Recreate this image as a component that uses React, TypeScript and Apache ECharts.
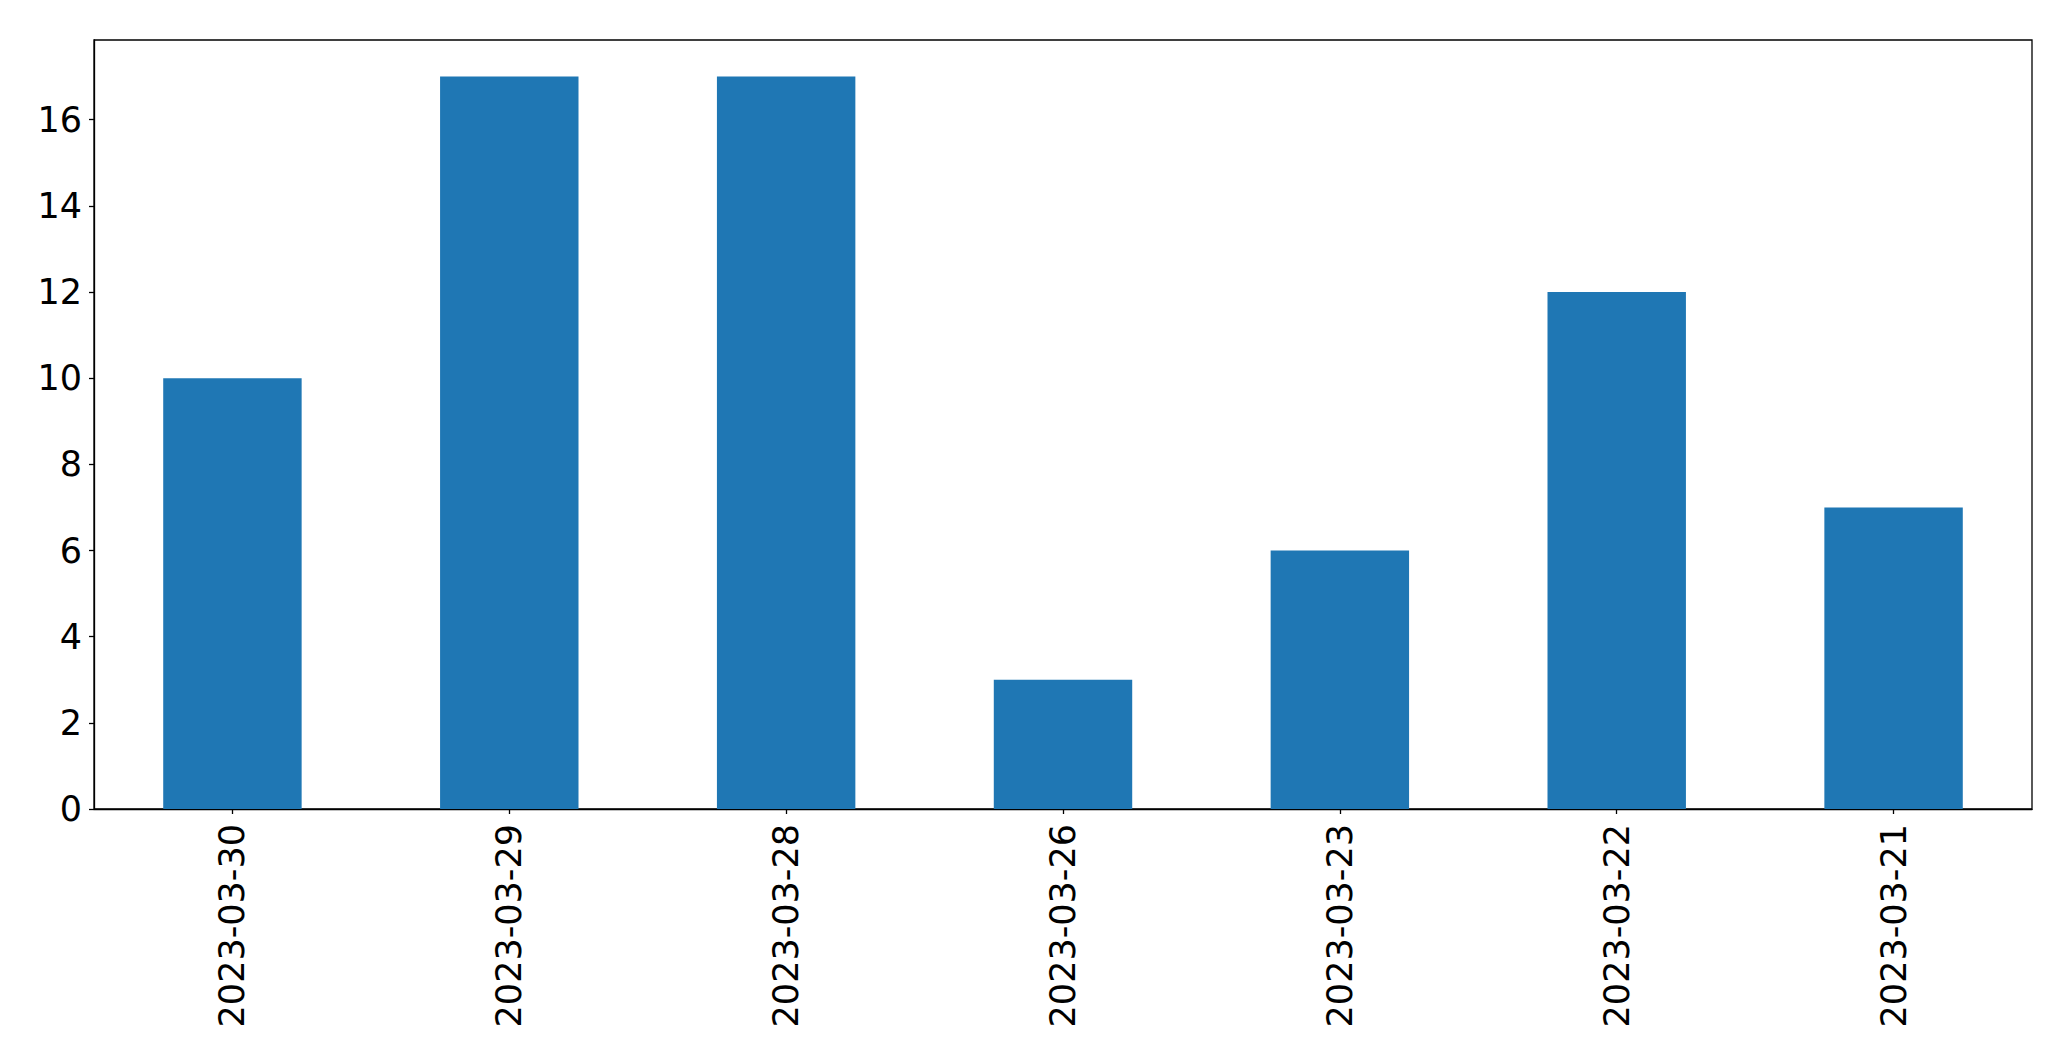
import React, { useEffect, useRef } from "react";
import * as echarts from "echarts";

const categories = ["2023-03-30", "2023-03-29", "2023-03-28", "2023-03-26", "2023-03-23", "2023-03-22", "2023-03-21"];
const values = [10, 17, 17, 3, 6, 12, 7];
const yMax = 17.85;

export default function App() {
  const ref = useRef<HTMLDivElement>(null);
  useEffect(() => {
    if (!ref.current) return;
    const chart = echarts.init(ref.current, null, { renderer: "svg" });
    chart.setOption({
      animation: false,
      backgroundColor: "#ffffff",
      grid: {
        left: 94,
        top: 40,
        right: 39,
        bottom: 252,
        show: true,
        borderColor: "#000000",
        borderWidth: 1.3,
        containLabel: false,
      },
      xAxis: {
        type: "category",
        data: categories,
        boundaryGap: true,
        axisLine: { show: true, lineStyle: { color: "#000000", width: 1.3 } },
        axisTick: { show: true, alignWithLabel: true, length: 5, lineStyle: { color: "#000000", width: 1.3 } },
        axisLabel: {
          rotate: 90,
          margin: 15,
          color: "#000000",
          fontFamily: "DejaVu Sans",
          fontSize: 35,
          interval: 0,
        },
        splitLine: { show: false },
      },
      yAxis: {
        type: "value",
        min: 0,
        max: yMax,
        interval: 2,
        axisLine: { show: true, lineStyle: { color: "#000000", width: 1.3 } },
        axisTick: { show: true, length: 5, lineStyle: { color: "#000000", width: 1.3 } },
        axisLabel: {
          margin: 12,
          color: "#000000",
          fontFamily: "DejaVu Sans",
          fontSize: 35,
          showMaxLabel: false,
        },
        splitLine: { show: false },
      },
      series: [
        {
          type: "bar",
          data: values,
          barWidth: "50%",
          itemStyle: { color: "#1f77b4" },
        },
      ],
    });
    return () => chart.dispose();
  }, []);
  return (
    <div
      ref={ref}
      style={{ position: "fixed", left: 0, top: 0, width: 2071, height: 1061, background: "#fff" }}
    />
  );
}
